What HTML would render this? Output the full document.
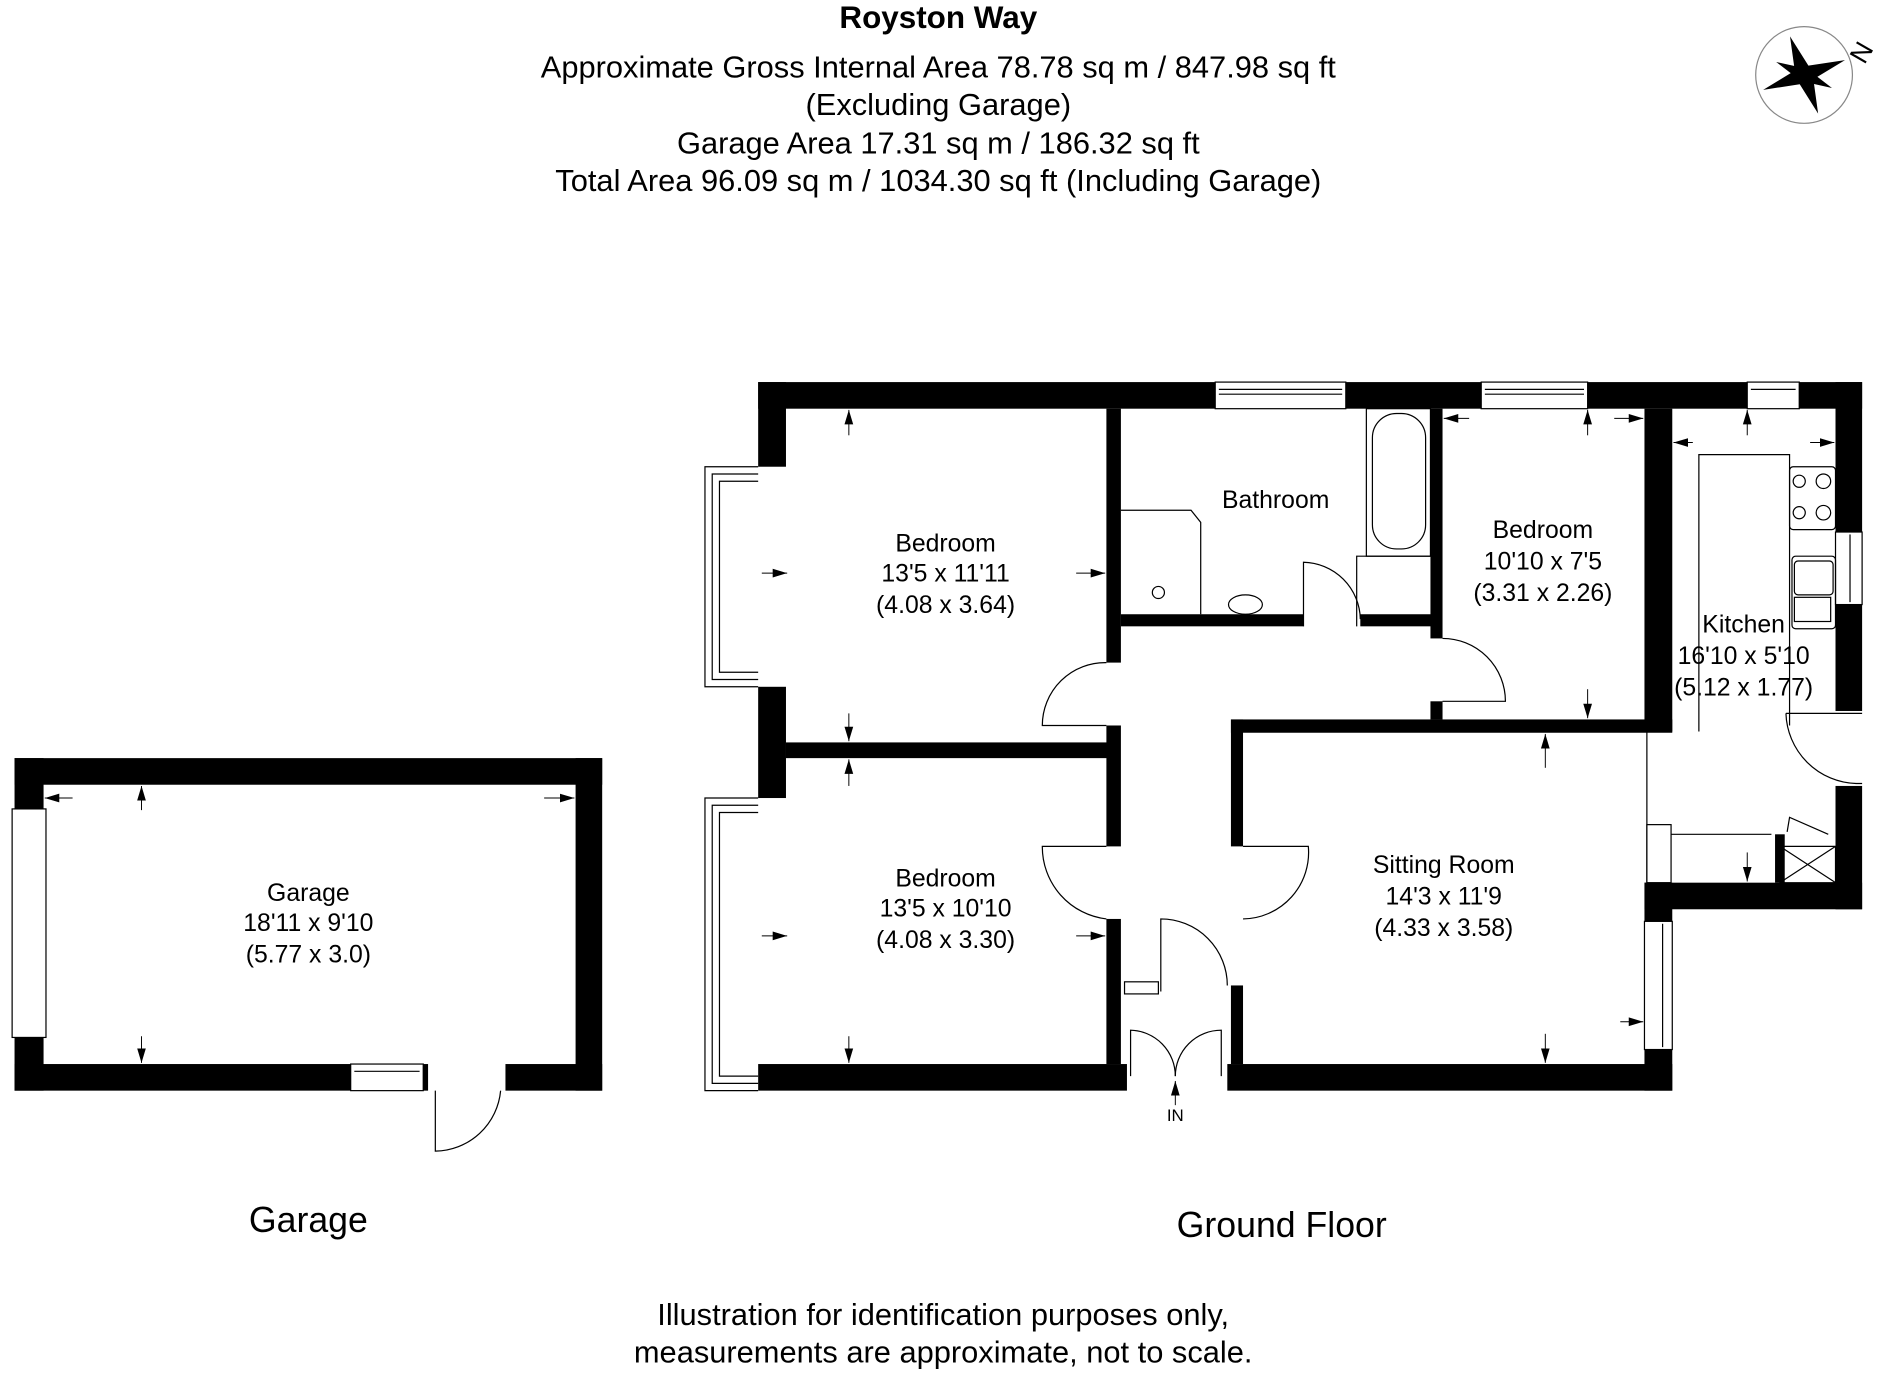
<!DOCTYPE html>
<html><head><meta charset="utf-8"><style>
html,body{margin:0;padding:0;background:#fff;}
svg{display:block;}
text{font-family:"Liberation Sans",Arial,sans-serif;fill:#000;}
</style></head><body>
<svg width="1896" height="1376" viewBox="0 0 1568 1138" xmlns="http://www.w3.org/2000/svg">
<defs>
<marker id="ah" viewBox="0 0 10 10" refX="10" refY="5" markerWidth="12" markerHeight="12" markerUnits="userSpaceOnUse" orient="auto-start-reverse"><path d="M0,2 L10,5 L0,8 z" fill="#000"/></marker>
</defs>
<rect width="1568" height="1138" fill="#fff"/>
<text x="776" y="23" font-size="26" font-weight="bold" text-anchor="middle">Royston Way</text>
<g font-size="25.5" text-anchor="middle">
<text x="776" y="64">Approximate Gross Internal Area 78.78 sq m / 847.98 sq ft</text>
<text x="776" y="95">(Excluding Garage)</text>
<text x="776" y="127">Garage Area 17.31 sq m / 186.32 sq ft</text>
<text x="776" y="158">Total Area 96.09 sq m / 1034.30 sq ft (Including Garage)</text>
</g>
<g transform="translate(1492,62)">
<circle r="40" fill="none" stroke="#888" stroke-width="1"/>
<path d="M0,-34 L6,-6 L36,0 L6,6 L0,34 L-6,6 L-36,0 L-6,-6 z" fill="#000" transform="rotate(-20)"/>
<path d="M-18,-18 L4,-4 L18,18 L-4,4 z" fill="#000" transform="rotate(-20)"/>
<text x="50" y="-8" font-size="22" transform="rotate(-60 50 -8)">N</text>
</g>

<g fill="#000">
<rect x="627" y="316" width="378" height="22"/>
<rect x="1113" y="316" width="112" height="22"/>
<rect x="1313" y="316" width="132" height="22"/>
<rect x="1488" y="316" width="52" height="22"/>
<rect x="627" y="316" width="23" height="70"/>
<rect x="627" y="568" width="23" height="92"/>
<rect x="627" y="880" width="305" height="22"/>
<rect x="1015" y="880" width="368" height="22"/>
<rect x="1360" y="730" width="23" height="32"/>
<rect x="1360" y="868" width="23" height="34"/>
<rect x="1518" y="316" width="22" height="124"/>
<rect x="1518" y="500" width="22" height="88"/>
<rect x="1518" y="650" width="22" height="102"/>
<rect x="1360" y="730" width="180" height="22"/>
<rect x="650" y="614" width="275" height="13"/>
<rect x="915" y="338" width="12" height="210"/>
<rect x="915" y="600" width="12" height="100"/>
<rect x="915" y="760" width="12" height="120"/>
<rect x="927" y="508" width="151" height="10"/>
<rect x="1125" y="508" width="60" height="10"/>
<rect x="1183" y="338" width="10" height="190"/>
<rect x="1183" y="580" width="10" height="15"/>
<rect x="1018" y="595" width="365" height="11"/>
<rect x="1360" y="338" width="23" height="267"/>
<rect x="1018" y="595" width="10" height="105"/>
<rect x="1018" y="815" width="10" height="65"/>
<rect x="12" y="627" width="486" height="22"/>
<rect x="12" y="627" width="24" height="42"/>
<rect x="12" y="858" width="24" height="44"/>
<rect x="476" y="627" width="22" height="275"/>
<rect x="12" y="880" width="278" height="22"/>
<rect x="418" y="880" width="80" height="22"/>
<rect x="350" y="880" width="4" height="22"/>
<rect x="1468" y="690" width="8" height="40"/>
</g>

<g fill="none" stroke="#000" stroke-width="1">
<rect x="1005" y="316" width="108" height="22"/><line x1="1008" y1="322" x2="1110" y2="322"/><line x1="1008" y1="326" x2="1110" y2="326"/>
<rect x="1225" y="316" width="88" height="22"/><line x1="1228" y1="322" x2="1310" y2="322"/><line x1="1228" y1="326" x2="1310" y2="326"/>
<rect x="1445" y="316" width="43" height="22"/><line x1="1448" y1="322" x2="1485" y2="322"/>
<rect x="1518" y="440" width="22" height="60"/><line x1="1530" y1="442" x2="1530" y2="498"/>
<rect x="1360" y="762" width="23" height="106"/><line x1="1375" y1="764" x2="1375" y2="866"/>
<path d="M627,386 L583,386 L583,568 L627,568"/><path d="M627,392 L589,392 L589,562 L627,562"/><path d="M627,398 L595,398 L595,556 L627,556"/>
<path d="M627,660 L583,660 L583,902 L627,902"/><path d="M627,666 L589,666 L589,896 L627,896"/><path d="M627,672 L595,672 L595,890 L627,890"/>
<rect x="10" y="669" width="28" height="189"/>
<rect x="290" y="880" width="60" height="22"/><line x1="293" y1="886" x2="347" y2="886"/>
<path d="M915,548 A52,52 0 0 0 862,600 L915,600"/>
<path d="M915,700 L862,700 A60,60 0 0 0 915,760"/>
<path d="M1028,700 L1082,700 A55,55 0 0 1 1028,760"/>
<path d="M1078,518 L1078,465 A48,48 0 0 1 1125,512"/>
<path d="M1193,528 A52,52 0 0 1 1245,580 L1193,580"/>
<path d="M960,820 L960,760 A55,55 0 0 1 1015,815"/>
<rect x="930" y="812" width="28" height="10"/>
<path d="M935,890 L935,852 A38,38 0 0 1 972,890"/><path d="M1010,890 L1010,852 A38,38 0 0 0 972,890"/>
<path d="M1477,590 A60,60 0 0 0 1535,648 L1540,648 M1477,590 L1540,590"/>
<path d="M360,902 L360,952 A55,55 0 0 0 414,902"/>
<rect x="1130" y="338" width="53" height="122"/>
<rect x="1135" y="342" width="44" height="112" rx="20"/>
<path d="M1122,518 L1122,460 L1183,460"/>
<path d="M927,422 L985,422 L993,432 L993,508"/>
<circle cx="958" cy="490" r="5"/>
<ellipse cx="1030" cy="500" rx="14" ry="8"/>
<path d="M1405,605 L1405,376 L1480,376 L1480,600"/>
<rect x="1480" y="386" width="38" height="52" rx="3"/>
<circle cx="1488" cy="398" r="5"/><circle cx="1508" cy="398" r="6"/><circle cx="1488" cy="424" r="5"/><circle cx="1508" cy="424" r="6"/>
<rect x="1482" y="460" width="36" height="60" rx="3"/><rect x="1484" y="464" width="32" height="28" rx="3"/><rect x="1484" y="494" width="30" height="20"/>
<path d="M1362,605 L1362,730"/>
<rect x="1362" y="682" width="20" height="48"/>
<path d="M1382,690 L1465,690"/>
<path d="M1472,700 L1518,700 L1518,730 L1472,730 z M1472,700 L1518,730 M1518,700 L1472,730"/>
<path d="M1478,688 L1480,676 L1512,690"/>
</g>

<g stroke="#000" stroke-width="0.8" marker-end="url(#ah)">
<line x1="702" y1="360" x2="702" y2="339"/><line x1="702" y1="590" x2="702" y2="613"/>
<line x1="630" y1="474" x2="651" y2="474"/><line x1="890" y1="474" x2="914" y2="474"/>
<line x1="702" y1="650" x2="702" y2="628"/><line x1="702" y1="857" x2="702" y2="879"/>
<line x1="630" y1="774" x2="651" y2="774"/><line x1="890" y1="774" x2="914" y2="774"/>
<line x1="1313" y1="360" x2="1313" y2="339"/><line x1="1313" y1="570" x2="1313" y2="594"/>
<line x1="1215" y1="346" x2="1194" y2="346"/><line x1="1335" y1="346" x2="1359" y2="346"/>
<line x1="1445" y1="360" x2="1445" y2="339"/><line x1="1400" y1="366" x2="1384" y2="366"/><line x1="1497" y1="366" x2="1517" y2="366"/>
<line x1="1445" y1="705" x2="1445" y2="729"/>
<line x1="1278" y1="635" x2="1278" y2="607"/><line x1="1278" y1="855" x2="1278" y2="879"/>
<line x1="1340" y1="845" x2="1359" y2="845"/>
<line x1="117" y1="670" x2="117" y2="650"/><line x1="117" y1="857" x2="117" y2="879"/>
<line x1="60" y1="660" x2="37" y2="660"/><line x1="450" y1="660" x2="475" y2="660"/>
<line x1="972" y1="914" x2="972" y2="894"/>
</g>

<g font-size="20.5" text-anchor="middle">
<text x="782" y="456">Bedroom</text><text x="782" y="481">13'5 x 11'11</text><text x="782" y="507">(4.08 x 3.64)</text>
<text x="1055" y="420">Bathroom</text>
<text x="1276" y="445">Bedroom</text><text x="1276" y="471">10'10 x 7'5</text><text x="1276" y="497">(3.31 x 2.26)</text>
<text x="1442" y="523">Kitchen</text><text x="1442" y="549">16'10 x 5'10</text><text x="1442" y="575">(5.12 x 1.77)</text>
<text x="782" y="733">Bedroom</text><text x="782" y="758">13'5 x 10'10</text><text x="782" y="784">(4.08 x 3.30)</text>
<text x="1194" y="722">Sitting Room</text><text x="1194" y="748">14'3 x 11'9</text><text x="1194" y="774">(4.33 x 3.58)</text>
<text x="255" y="745">Garage</text><text x="255" y="770">18'11 x 9'10</text><text x="255" y="796">(5.77 x 3.0)</text>
</g>
<text x="972" y="927" font-size="14" text-anchor="middle">IN</text>
<g font-size="29.5" text-anchor="middle">
<text x="255" y="1019">Garage</text>
<text x="1060" y="1023">Ground Floor</text>
</g>
<g font-size="25.5" text-anchor="middle">
<text x="780" y="1096">Illustration for identification purposes only,</text>
<text x="780" y="1127">measurements are approximate, not to scale.</text>
</g>
</svg>
</body></html>
